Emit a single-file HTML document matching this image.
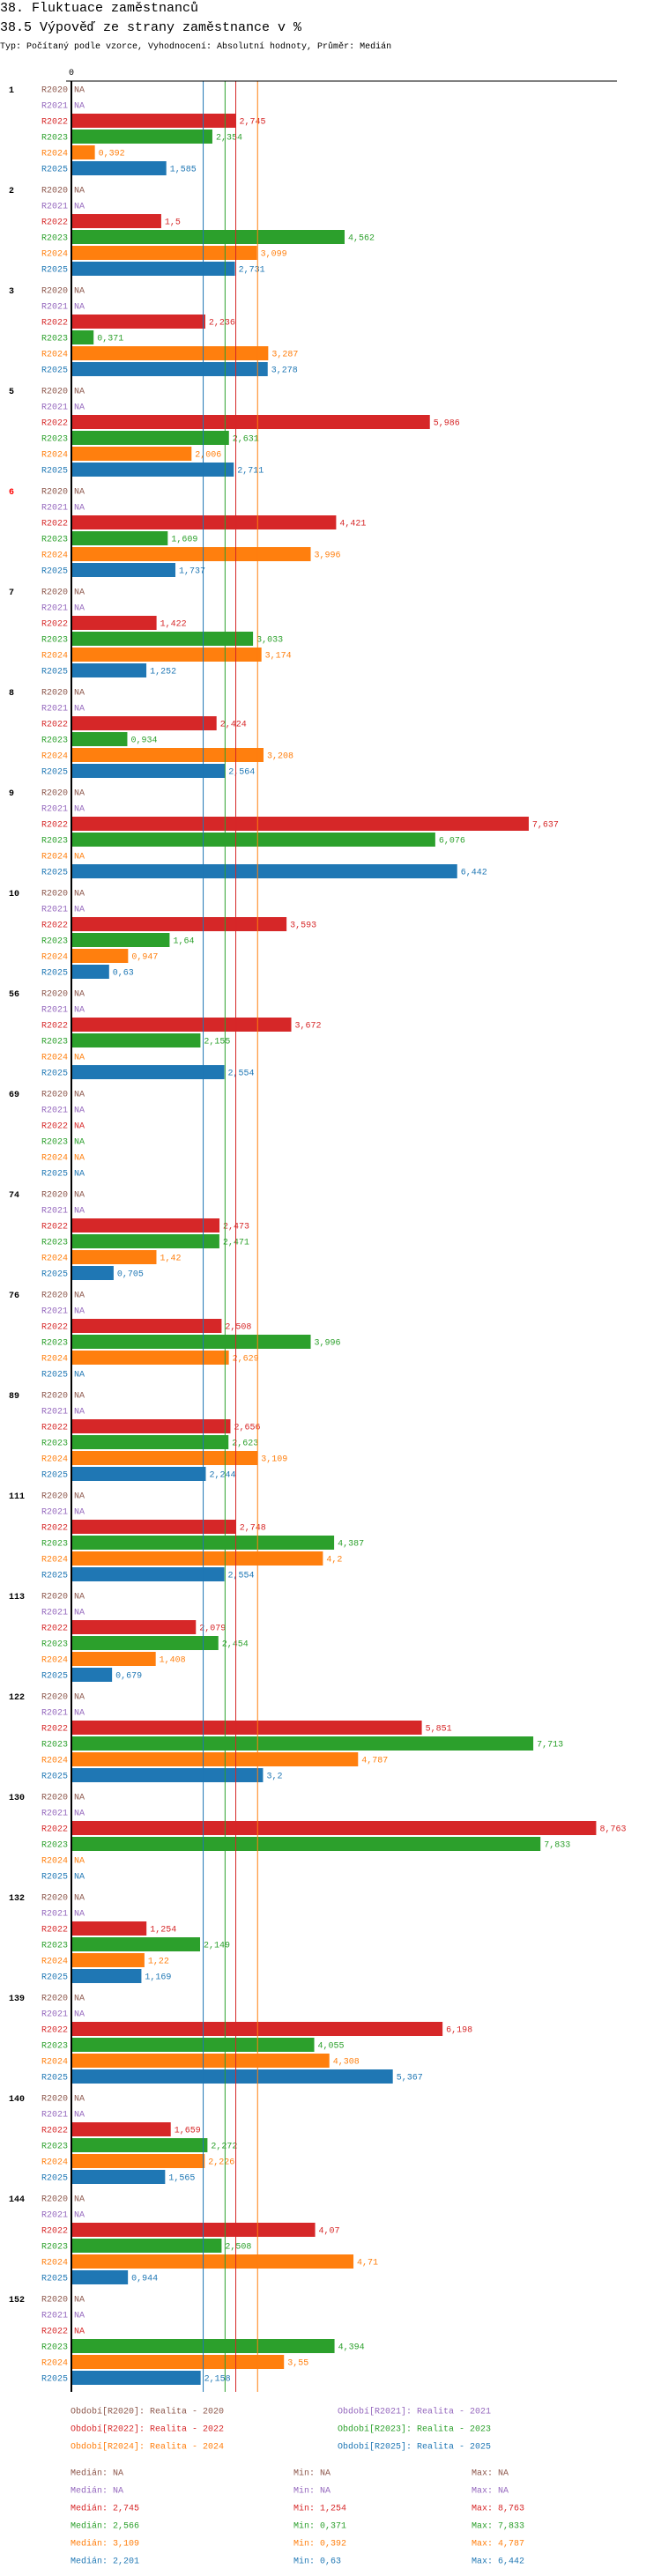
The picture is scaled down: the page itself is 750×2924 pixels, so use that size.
<!DOCTYPE html>
<html><head><meta charset="utf-8"><style>
html,body{margin:0;padding:0;background:#fff;}
svg{display:block;font-family:"Liberation Mono",monospace;}
</style></head><body>
<svg id="chart" width="750" height="2924" viewBox="0 0 750 2924" xmlns="http://www.w3.org/2000/svg">
<text x="0" y="13" font-size="15" fill="#000">38. Fluktuace zaměstnanců</text>
<text x="0" y="35" font-size="15" fill="#000">38.5 Výpověď ze strany zaměstnance v %</text>
<text x="0" y="55" font-size="10" fill="#000">Typ: Počítaný podle vzorce, Vyhodnocení: Absolutní hodnoty, Průměr: Medián</text>
<g id="plot"></g>
</svg>
<script>
const categories = ["1","2","3","5","6","7","8","9","10","56","69","74","76","89","111","113","122","130","132","139","140","144","152"];
const seriesNames = ["R2020","R2021","R2022","R2023","R2024","R2025"];
const r2020 = categories.map(()=>null);
const r2021 = categories.map(()=>null);
const r2022 = [2.745,1.5,2.236,5.986,4.421,1.422,2.424,7.637,3.593,3.672,null,2.473,2.508,2.656,2.748,2.079,5.851,8.763,1.254,6.198,1.659,4.07,null];
const r2023 = [2.354,4.562,0.371,2.631,1.609,3.033,0.934,6.076,1.64,2.155,null,2.471,3.996,2.623,4.387,2.454,7.713,7.833,2.149,4.055,2.272,2.508,4.394];
const r2024 = [0.392,3.099,3.287,2.006,3.996,3.174,3.208,null,0.947,null,null,1.42,2.629,3.109,4.2,1.408,4.787,null,1.22,4.308,2.226,4.71,3.55];
const r2025 = [1.585,2.731,3.278,2.711,1.737,1.252,2.564,6.442,0.63,2.554,null,0.705,null,2.244,2.554,0.679,3.2,null,1.169,5.367,1.565,0.944,2.158];
const medians = [null,null,2.745,2.566,3.109,2.201];
const mins = [null,null,1.254,0.371,0.392,0.63];
const maxs = [null,null,8.763,7.833,4.787,6.442];
const colors = ["#8c564b","#9467bd","#d62728","#2ca02c","#ff7f0e","#1f77b4"];
const highlightCategory = "6";

const NS="http://www.w3.org/2000/svg";
const plot=document.getElementById('plot');
const series=[r2020,r2021,r2022,r2023,r2024,r2025];
const X0=81, K=67.95;
const xScale=v=>X0+v*K;
const TOP=92, BOTTOM=2715, FIRST=101, GROUP=114, ROW=18;
const yRow=(g,s)=>FIRST+g*GROUP+s*ROW;
const fmt=v=>String(v).replace('.',',');
function mk(tag,attrs,txt){const e=document.createElementNS(NS,tag);for(const k in attrs)e.setAttribute(k,attrs[k]);if(txt!==undefined)e.textContent=txt;plot.appendChild(e);return e;}

categories.forEach((c,g)=>{
  const gl=mk('text',{x:10,y:yRow(g,0)+4,'font-size':10,'font-weight':'bold',fill:c===highlightCategory?'#ff0000':'#000'},c);
  
  
  series.forEach((arr,s)=>{
    const y=yRow(g,s);
    const sl=mk('text',{x:77,y:y+3.5,'font-size':10,'text-anchor':'end',fill:colors[s]},seriesNames[s]);
    
    
    const v=arr[g];
    if(v===null){
      const na=mk('text',{x:84,y:y+3.5,'font-size':10,fill:colors[s]},'NA');
      
      
    } else {
      const b=mk('rect',{x:82,y:y-8,width:Math.max(0,xScale(v)-82),height:16,fill:colors[s]});
      
      
      const vl=mk('text',{x:xScale(v)+4,y:y+3.5,'font-size':10,fill:colors[s]},fmt(v));
      
      
    }
  });
});
medians.forEach((m,s)=>{
  if(m===null)return;
  const l=mk('line',{x1:xScale(m),x2:xScale(m),y1:TOP,y2:BOTTOM,stroke:colors[s],'stroke-width':1});
  
  
});
const ax=mk('line',{x1:75,x2:700,y1:TOP,y2:TOP,stroke:'#000','stroke-width':1});


const ay=mk('line',{x1:81,x2:81,y1:TOP,y2:BOTTOM,stroke:'#000','stroke-width':2});


const z=mk('text',{x:X0,y:85,'font-size':10,'text-anchor':'middle',fill:'#000'},'0');


seriesNames.forEach((n,s)=>{
  const col=s%2, row=Math.floor(s/2);
  const t=mk('text',{x:col?383:80,y:2736+row*20+3.5,'font-size':10,fill:colors[s]},'Období['+n+']: Realita - '+n.slice(1));
  
  
});
seriesNames.forEach((n,s)=>{
  const y=2806+s*20+3.5;
  const f=v=>v===null?'NA':fmt(v);
  const a=mk('text',{x:80,y:y,'font-size':10,fill:colors[s]},'Medián: '+f(medians[s]));
  
  
  const b=mk('text',{x:333,y:y,'font-size':10,fill:colors[s]},'Min: '+f(mins[s]));
  
  
  const c=mk('text',{x:535,y:y,'font-size':10,fill:colors[s]},'Max: '+f(maxs[s]));
  
  
});
</script>
</body></html>
